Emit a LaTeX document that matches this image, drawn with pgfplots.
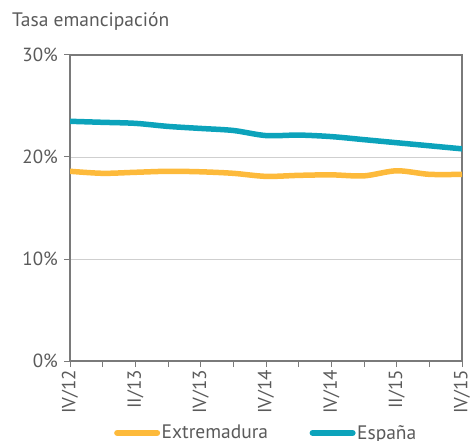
\documentclass[border=0pt]{standalone}
\usepackage{pgfplots}
\pgfplotsset{compat=1.18}
\usepackage{fontspec}
\setmainfont{PT Sans}
\definecolor{txt}{HTML}{5A5A5A}
\definecolor{axc}{HTML}{7A7A7A}
\definecolor{gridc}{HTML}{CFCFCF}
\definecolor{extc}{HTML}{FDBA3B}
\definecolor{espc}{HTML}{0CA3BB}
\begin{document}
\begin{tikzpicture}
\begin{axis}[
  scale only axis,
  width=392bp, height=306bp,
  at={(0,0)}, anchor=south west,
  xmin=0, xmax=12, ymin=0, ymax=30,
  xtick={0,2,4,6,8,10,12},
  xticklabels={IV/12,II/13,IV/13,IV/14,IV/14,II/15,IV/15},
  minor xtick={1,3,5,7,9,11},
  ytick={0,10,20,30},
  yticklabel={\pgfmathprintnumber{\tick}\%},
  /pgf/number format/assume math mode=true,
  ymajorgrids, grid style={gridc, line width=0.8bp},
  axis line style={axc, line width=1.2bp},
  tick style={axc, line width=1bp},
  major tick length=6bp, minor tick length=6bp,
  tick align=outside,
  xtick pos=bottom, ytick pos=left,
  ticklabel style={font=\fontsize{19bp}{21bp}\selectfont, text=txt},
  x tick label style={rotate=90, anchor=east, inner sep=0bp, xshift=-3bp},
  y tick label style={inner sep=0bp, xshift=-6bp},
  legend columns=2,
  legend style={at={(0.5,-0.235)}, anchor=center, draw=none, fill=none,
    font=\fontsize{19.5bp}{21bp}\selectfont, text=txt, inner sep=0pt,
    /tikz/every even column/.append style={column sep=40bp},
    nodes={inner sep=1.5bp}},
  legend image code/.code={\draw[#1, line width=6bp, line cap=round] (0bp,0bp) -- (40bp,0bp);},
]
\addplot[extc, line width=5.5bp, smooth, tension=0.5] coordinates {
(0,18.6) (1,18.4) (2,18.5) (3,18.6) (4,18.55) (5,18.4) (6,18.1) (7,18.2) (8,18.25) (9,18.15) (10,18.65) (11,18.3) (12,18.3)};
\addlegendentry{Extremadura}
\addplot[espc, line width=5.5bp, smooth, tension=0.5] coordinates {
(0,23.5) (1,23.4) (2,23.3) (3,23.0) (4,22.8) (5,22.6) (6,22.1) (7,22.15) (8,22.0) (9,21.7) (10,21.4) (11,21.1) (12,20.8)};
\addlegendentry{España}
\end{axis}
\node[anchor=base west, text=txt, font=\fontsize{19.5bp}{21bp}\selectfont, inner sep=0pt] at (-58bp,334bp) {Tasa emancipación};
\pgfresetboundingbox
\path[use as bounding box] (-70bp,-80bp) rectangle (402bp,361bp);
\end{tikzpicture}
\end{document}
